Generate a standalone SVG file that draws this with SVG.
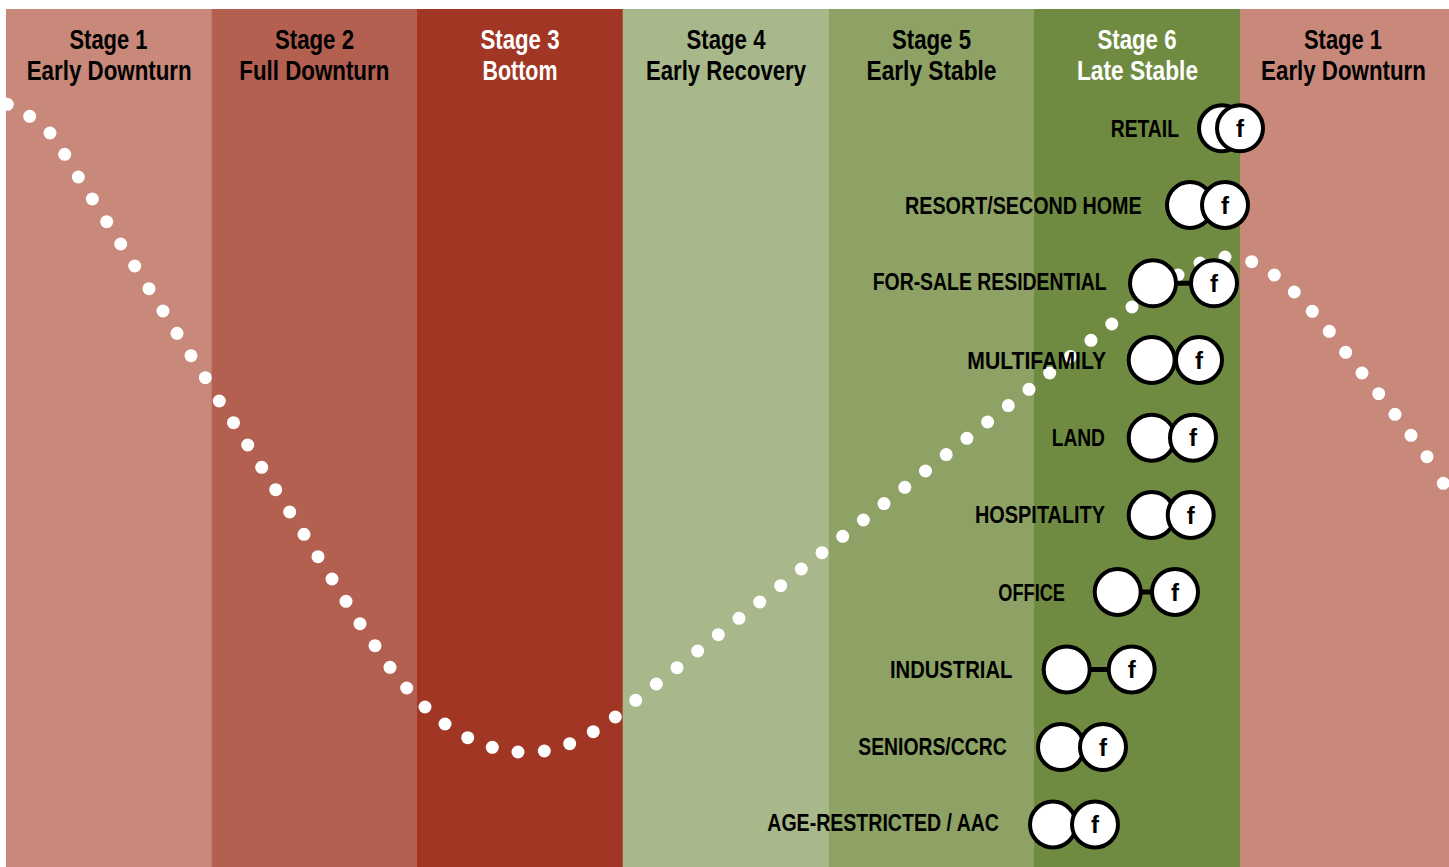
<svg xmlns="http://www.w3.org/2000/svg" width="1449" height="867" viewBox="0 0 1449 867">
  <style>
    .hdr { font-family: "Liberation Sans", Arial, sans-serif; font-weight: bold; font-size: 28.5px; fill: #000; text-anchor: middle; }
    .hdr.light { fill: #fff; }
    .lbl { font-family: "Liberation Sans", Arial, sans-serif; font-weight: bold; font-size: 23.5px; fill: #000; }
    .f { font-family: "Liberation Sans", Arial, sans-serif; font-weight: bold; font-size: 24px; fill: #000; text-anchor: middle; }
    .ring { fill: #fff; stroke: #000; stroke-width: 4; }
    .bar { stroke: #000; stroke-width: 5; fill: none; }
    .dot { fill: #fff; }
  </style>

  <!-- page -->
  <rect x="0" y="0" width="1449" height="867" fill="#fff"/>

  <!-- stage bands -->
  <g id="bands">
    <rect x="6" y="9" width="206" height="858" fill="#C8887A"/>
    <rect x="211.7" y="9" width="206" height="858" fill="#B46050"/>
    <rect x="417" y="9" width="206" height="858" fill="#A03623"/>
    <rect x="622.7" y="9" width="206.5" height="858" fill="#A9B88B"/>
    <rect x="829" y="9" width="205.5" height="858" fill="#8DA264"/>
    <rect x="1034" y="9" width="206.5" height="858" fill="#6F8B41"/>
    <rect x="1240" y="9" width="209" height="858" fill="#C8887A"/>
  </g>

  <!-- stage headings -->
  <g id="headers">
    <text class="hdr" x="108.5" y="49" textLength="78" lengthAdjust="spacingAndGlyphs">Stage 1</text>
    <text class="hdr" x="109.2" y="80" textLength="165" lengthAdjust="spacingAndGlyphs">Early Downturn</text>
    <text class="hdr" x="314.5" y="49" textLength="79" lengthAdjust="spacingAndGlyphs">Stage 2</text>
    <text class="hdr" x="314.3" y="80" textLength="150" lengthAdjust="spacingAndGlyphs">Full Downturn</text>
    <text class="hdr light" x="520" y="49" textLength="79" lengthAdjust="spacingAndGlyphs">Stage 3</text>
    <text class="hdr light" x="520" y="80" textLength="75" lengthAdjust="spacingAndGlyphs">Bottom</text>
    <text class="hdr" x="726" y="49" textLength="79" lengthAdjust="spacingAndGlyphs">Stage 4</text>
    <text class="hdr" x="726" y="80" textLength="160" lengthAdjust="spacingAndGlyphs">Early Recovery</text>
    <text class="hdr" x="931.5" y="49" textLength="79" lengthAdjust="spacingAndGlyphs">Stage 5</text>
    <text class="hdr" x="931.5" y="80" textLength="130" lengthAdjust="spacingAndGlyphs">Early Stable</text>
    <text class="hdr light" x="1137" y="49" textLength="79" lengthAdjust="spacingAndGlyphs">Stage 6</text>
    <text class="hdr light" x="1137.5" y="80" textLength="121" lengthAdjust="spacingAndGlyphs">Late Stable</text>
    <text class="hdr" x="1343" y="49" textLength="78" lengthAdjust="spacingAndGlyphs">Stage 1</text>
    <!-- narrowed by transform so the line stays inside the last band -->
    <text class="hdr" transform="translate(1343.5 80) scale(0.8 1)" x="0" y="0" textLength="206" lengthAdjust="spacingAndGlyphs">Early Downturn</text>
  </g>

  <!-- market cycle curve, drawn as a dotted line -->
  <g id="cycle-curve">
    <circle class="dot" cx="7.3" cy="104.3" r="6.5"/>
    <circle class="dot" cx="29.7" cy="116.3" r="6.5"/>
    <circle class="dot" cx="50" cy="133" r="6.5"/>
    <circle class="dot" cx="64.7" cy="154.3" r="6.5"/>
    <circle class="dot" cx="78.3" cy="177" r="6.5"/>
    <circle class="dot" cx="92.3" cy="199" r="6.5"/>
    <circle class="dot" cx="106.7" cy="221.7" r="6.5"/>
    <circle class="dot" cx="120.7" cy="244" r="6.5"/>
    <circle class="dot" cx="134.7" cy="266" r="6.5"/>
    <circle class="dot" cx="149" cy="288.7" r="6.5"/>
    <circle class="dot" cx="163" cy="311" r="6.5"/>
    <circle class="dot" cx="177" cy="333.3" r="6.5"/>
    <circle class="dot" cx="191" cy="355.7" r="6.5"/>
    <circle class="dot" cx="205.3" cy="377.7" r="6.5"/>
    <circle class="dot" cx="219.3" cy="401" r="6.5"/>
    <circle class="dot" cx="233.5" cy="422.7" r="6.5"/>
    <circle class="dot" cx="247.7" cy="445" r="6.5"/>
    <circle class="dot" cx="261.7" cy="467.3" r="6.5"/>
    <circle class="dot" cx="275.7" cy="489.7" r="6.5"/>
    <circle class="dot" cx="289.7" cy="512" r="6.5"/>
    <circle class="dot" cx="304" cy="534.3" r="6.5"/>
    <circle class="dot" cx="318" cy="556.7" r="6.5"/>
    <circle class="dot" cx="332" cy="579" r="6.5"/>
    <circle class="dot" cx="346" cy="601.3" r="6.5"/>
    <circle class="dot" cx="360" cy="623.7" r="6.5"/>
    <circle class="dot" cx="375" cy="645.7" r="6.5"/>
    <circle class="dot" cx="390" cy="667.3" r="6.5"/>
    <circle class="dot" cx="406.7" cy="688" r="6.5"/>
    <circle class="dot" cx="425" cy="707" r="6.5"/>
    <circle class="dot" cx="445" cy="724" r="6.5"/>
    <circle class="dot" cx="467.7" cy="737.7" r="6.5"/>
    <circle class="dot" cx="492.3" cy="747.3" r="6.5"/>
    <circle class="dot" cx="518" cy="752" r="6.5"/>
    <circle class="dot" cx="544.3" cy="751" r="6.5"/>
    <circle class="dot" cx="569.7" cy="743.7" r="6.5"/>
    <circle class="dot" cx="593.3" cy="731.7" r="6.5"/>
    <circle class="dot" cx="615.3" cy="717" r="6.5"/>
    <circle class="dot" cx="635.7" cy="700.3" r="6.5"/>
    <circle class="dot" cx="656.3" cy="684" r="6.5"/>
    <circle class="dot" cx="677" cy="667.7" r="6.5"/>
    <circle class="dot" cx="697.7" cy="651" r="6.5"/>
    <circle class="dot" cx="718.3" cy="634.7" r="6.5"/>
    <circle class="dot" cx="739" cy="618.3" r="6.5"/>
    <circle class="dot" cx="759.7" cy="602" r="6.5"/>
    <circle class="dot" cx="780.7" cy="585.7" r="6.5"/>
    <circle class="dot" cx="801.3" cy="569" r="6.5"/>
    <circle class="dot" cx="822" cy="552.7" r="6.5"/>
    <circle class="dot" cx="842.7" cy="536.3" r="6.5"/>
    <circle class="dot" cx="863.4" cy="520" r="6.5"/>
    <circle class="dot" cx="884" cy="503.6" r="6.5"/>
    <circle class="dot" cx="904.8" cy="487.3" r="6.5"/>
    <circle class="dot" cx="925.5" cy="471" r="6.5"/>
    <circle class="dot" cx="946.2" cy="454.6" r="6.5"/>
    <circle class="dot" cx="966.9" cy="438.3" r="6.5"/>
    <circle class="dot" cx="987.6" cy="422" r="6.5"/>
    <circle class="dot" cx="1008.3" cy="405.6" r="6.5"/>
    <circle class="dot" cx="1029" cy="389.3" r="6.5"/>
    <circle class="dot" cx="1049.7" cy="373" r="6.5"/>
    <circle class="dot" cx="1070.4" cy="356.6" r="6.5"/>
    <circle class="dot" cx="1091" cy="340.3" r="6.5"/>
    <circle class="dot" cx="1111.8" cy="324" r="6.5"/>
    <circle class="dot" cx="1132" cy="307" r="6.5"/>
    <circle class="dot" cx="1155" cy="290" r="6.5"/>
    <circle class="dot" cx="1178" cy="275" r="6.5"/>
    <circle class="dot" cx="1200" cy="263" r="6.5"/>
    <circle class="dot" cx="1225" cy="257" r="6.5"/>
    <circle class="dot" cx="1251.7" cy="261.7" r="6.5"/>
    <circle class="dot" cx="1274.3" cy="275" r="6.5"/>
    <circle class="dot" cx="1294.3" cy="292" r="6.5"/>
    <circle class="dot" cx="1312.3" cy="311.3" r="6.5"/>
    <circle class="dot" cx="1329.3" cy="331.3" r="6.5"/>
    <circle class="dot" cx="1345.7" cy="352.3" r="6.5"/>
    <circle class="dot" cx="1362" cy="373" r="6.5"/>
    <circle class="dot" cx="1378.7" cy="393.7" r="6.5"/>
    <circle class="dot" cx="1395" cy="414.3" r="6.5"/>
    <circle class="dot" cx="1411" cy="435.3" r="6.5"/>
    <circle class="dot" cx="1427" cy="456.7" r="6.5"/>
    <circle class="dot" cx="1443.3" cy="483.3" r="6.5"/>
  </g>

  <!-- links between the paired circles -->
  <g id="connectors">
    <line class="bar" x1="1153" y1="283.3" x2="1214" y2="283.3"/>
    <line class="bar" x1="1117.7" y1="592" x2="1175" y2="592"/>
    <line class="bar" x1="1066.7" y1="669.5" x2="1131.7" y2="669.5"/>
  </g>

  <!-- property types -->
  <g id="retail">
    <text class="lbl" x="1110.7" y="136.7" textLength="68.3" lengthAdjust="spacingAndGlyphs">RETAIL</text>
    <circle class="ring" cx="1222" cy="128.3" r="23"/>
    <circle class="ring" cx="1240" cy="128.3" r="23"/>
    <text class="f" x="1240" y="136.8">f</text>
  </g>
  <g id="resort-second-home">
    <text class="lbl" x="905" y="214.3" textLength="236.7" lengthAdjust="spacingAndGlyphs">RESORT/SECOND HOME</text>
    <circle class="ring" cx="1190" cy="205" r="23"/>
    <circle class="ring" cx="1225" cy="205" r="23"/>
    <text class="f" x="1225" y="213.5">f</text>
  </g>
  <g id="for-sale-residential">
    <text class="lbl" x="872.7" y="289.5" textLength="234" lengthAdjust="spacingAndGlyphs">FOR-SALE RESIDENTIAL</text>
    <circle class="ring" cx="1153" cy="283.3" r="23"/>
    <circle class="ring" cx="1214" cy="283.3" r="23"/>
    <text class="f" x="1214" y="291.8">f</text>
  </g>
  <g id="multifamily">
    <text class="lbl" x="967.3" y="369" textLength="138.7" lengthAdjust="spacingAndGlyphs">MULTIFAMILY</text>
    <circle class="ring" cx="1151.7" cy="360" r="23"/>
    <circle class="ring" cx="1199" cy="360" r="23"/>
    <text class="f" x="1199" y="368.5">f</text>
  </g>
  <g id="land">
    <text class="lbl" x="1051.7" y="446" textLength="53.3" lengthAdjust="spacingAndGlyphs">LAND</text>
    <circle class="ring" cx="1151.7" cy="437.7" r="23"/>
    <circle class="ring" cx="1193" cy="437.7" r="23"/>
    <text class="f" x="1193" y="446.2">f</text>
  </g>
  <g id="hospitality">
    <text class="lbl" x="975" y="523.3" textLength="130" lengthAdjust="spacingAndGlyphs">HOSPITALITY</text>
    <circle class="ring" cx="1151.7" cy="515" r="23"/>
    <circle class="ring" cx="1190.7" cy="515" r="23"/>
    <text class="f" x="1190.7" y="523.5">f</text>
  </g>
  <g id="office">
    <text class="lbl" x="998.3" y="600.7" textLength="66.7" lengthAdjust="spacingAndGlyphs">OFFICE</text>
    <circle class="ring" cx="1117.7" cy="592" r="23"/>
    <circle class="ring" cx="1175" cy="592" r="23"/>
    <text class="f" x="1175" y="600.5">f</text>
  </g>
  <g id="industrial">
    <text class="lbl" x="890" y="677.8" textLength="122.3" lengthAdjust="spacingAndGlyphs">INDUSTRIAL</text>
    <circle class="ring" cx="1066.7" cy="669.5" r="23"/>
    <circle class="ring" cx="1131.7" cy="669.5" r="23"/>
    <text class="f" x="1131.7" y="678">f</text>
  </g>
  <g id="seniors-ccrc">
    <text class="lbl" x="858.3" y="755.3" textLength="148.3" lengthAdjust="spacingAndGlyphs">SENIORS/CCRC</text>
    <circle class="ring" cx="1061" cy="747" r="23"/>
    <circle class="ring" cx="1103" cy="747" r="23"/>
    <text class="f" x="1103" y="755.5">f</text>
  </g>
  <g id="age-restricted-aac">
    <text class="lbl" x="767.3" y="831" textLength="231.7" lengthAdjust="spacingAndGlyphs">AGE-RESTRICTED / AAC</text>
    <circle class="ring" cx="1053" cy="824.5" r="23"/>
    <circle class="ring" cx="1095" cy="824.5" r="23"/>
    <text class="f" x="1095" y="833">f</text>
  </g>
</svg>
